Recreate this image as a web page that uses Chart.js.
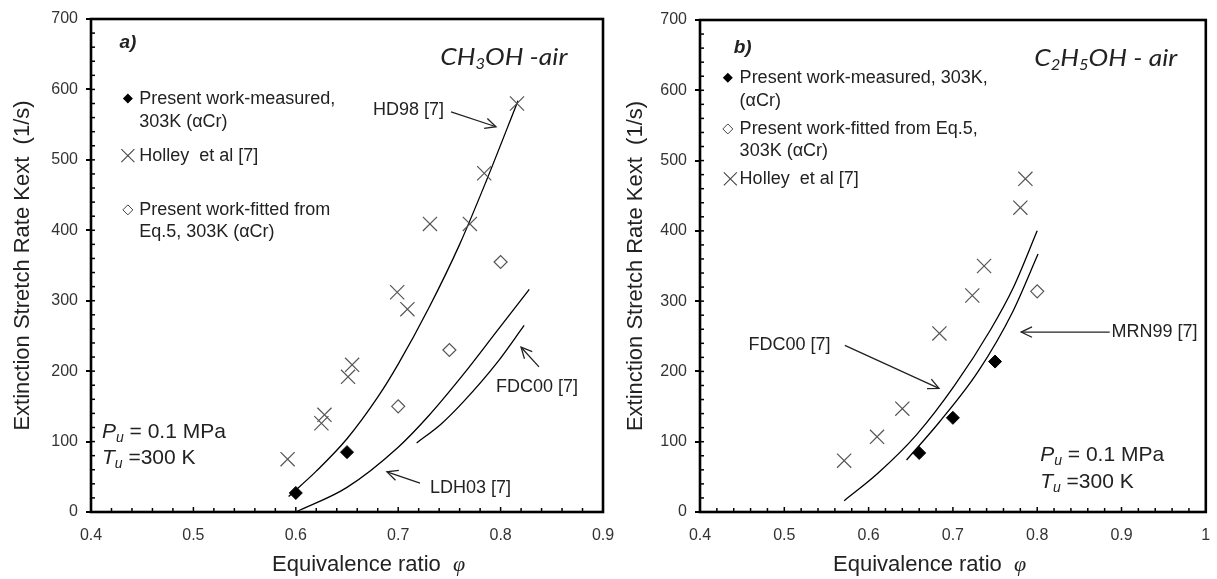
<!DOCTYPE html>
<html><head><meta charset="utf-8">
<script src="https://cdn.jsdelivr.net/npm/chart.js@4.4.1/dist/chart.umd.min.js"></script>
<style>
html,body{margin:0;padding:0;background:#fff;width:1217px;height:579px;overflow:hidden}
canvas{position:absolute;top:0}
#ca{left:0;width:640px;height:579px}
#cb{left:610px;width:607px;height:579px}
</style></head><body>
<canvas id="ca" width="640" height="579"></canvas>
<canvas id="cb" width="607" height="579"></canvas>
<script>
// ---------- Panel a) CH3OH - air ----------
const aMeasuredPhi = [0.60, 0.65];
const aMeasuredK   = [27, 85];
const aFittedPhi   = [0.70, 0.75, 0.80];
const aFittedK     = [150, 230, 355];
const aHolleyPhi   = [0.592, 0.625, 0.628, 0.651, 0.655, 0.699, 0.709, 0.731, 0.770, 0.784, 0.816];
const aHolleyK     = [75, 126, 138, 192, 209, 312, 288, 409, 409, 481, 580];
const aHD98Phi     = [0.593, 0.62, 0.65, 0.68, 0.70, 0.73, 0.76, 0.786, 0.817];
const aHD98K       = [22, 58, 104, 163, 210, 290, 380, 470, 584];
const aLDH03Phi    = [0.600, 0.650, 0.700, 0.730, 0.764, 0.796, 0.828];
const aLDH03K      = [0, 35, 92, 137, 196, 256, 316];
const aFDC00Phi    = [0.718, 0.742, 0.764, 0.796, 0.823];
const aFDC00K      = [98, 125, 157, 211, 265];
const aXTickLabels = ['0.4', '0.5', '0.6', '0.7', '0.8', '0.9'];

// ---------- Panel b) C2H5OH - air ----------
const bMeasuredPhi = [0.66, 0.70, 0.75];
const bMeasuredK   = [84, 134, 214];
const bFittedPhi   = [0.80];
const bFittedK     = [314];
const bHolleyPhi   = [0.571, 0.61, 0.64, 0.684, 0.723, 0.737, 0.78, 0.786];
const bHolleyK     = [73, 107, 147, 254, 308, 350, 433, 474];
const bFDC00Phi    = [0.571, 0.611, 0.657, 0.702, 0.745, 0.772, 0.800];
const bFDC00K      = [16, 55, 110, 180, 260, 320, 400];
const bMRN99Phi    = [0.645, 0.684, 0.730, 0.771, 0.801];
const bMRN99K      = [74, 128, 200, 285, 367];
const bXTickLabels = ['0.4', '0.5', '0.6', '0.7', '0.8', '0.9', '1'];

const yTickLabels  = ['0', '100', '200', '300', '400', '500', '600', '700'];

// ---------- styling ----------
const SANS = '"Liberation Sans", Arial, sans-serif';
const TXT = '#222';
const LEG = '18px ' + SANS;
const IT = 'italic 24px Lato, "Open Sans", sans-serif';
const ITS = 'italic 15px Lato, "Open Sans", sans-serif';
const PF = '21px ' + SANS, PFI = 'italic 21px ' + SANS, PFS = 'italic 14px ' + SANS;

const pts = (xs, ys) => xs.map((x, i) => ({x: x, y: ys[i]}));
function curve(xs, ys) {
  return {type: 'line', data: pts(xs, ys), borderColor: '#000', borderWidth: 1.3, pointRadius: 0,
          fill: false, cubicInterpolationMode: 'monotone', order: 5};
}
function measured(xs, ys) {
  return {data: pts(xs, ys), pointStyle: 'rectRot', pointRadius: 6.5, backgroundColor: '#000', borderColor: '#000', borderWidth: 1};
}
function fitted(xs, ys) {
  return {data: pts(xs, ys), pointStyle: 'rectRot', pointRadius: 6.5, backgroundColor: '#fff', borderColor: '#555', borderWidth: 1.2};
}
function holley(xs, ys) {
  return {data: pts(xs, ys), pointStyle: 'crossRot', pointRadius: 10, backgroundColor: '#555', borderColor: '#555', borderWidth: 1.2};
}

function drawSegs(ctx, x, y, segs, align, sx) {
  sx = sx || 1;
  let total = 0;
  segs.forEach(s => { ctx.font = s.f; s.w = ctx.measureText(s.t).width; total += s.w; });
  ctx.save();
  ctx.translate(x, y); ctx.scale(sx, 1);
  let cx = align === 'center' ? -total / 2 : 0;
  ctx.textBaseline = 'middle'; ctx.textAlign = 'left'; ctx.fillStyle = TXT;
  segs.forEach(s => { ctx.font = s.f; ctx.fillText(s.t, cx, (s.dy || 0)); cx += s.w; });
  ctx.restore();
}
function arrow(ctx, x1, y1, x2, y2) {
  ctx.save(); ctx.strokeStyle = '#222'; ctx.lineWidth = 1.3;
  ctx.beginPath(); ctx.moveTo(x1, y1); ctx.lineTo(x2, y2); ctx.stroke();
  const a = Math.atan2(y2 - y1, x2 - x1), L = 12, s = 0.45;
  ctx.beginPath();
  ctx.moveTo(x2 - L * Math.cos(a - s), y2 - L * Math.sin(a - s));
  ctx.lineTo(x2, y2);
  ctx.lineTo(x2 - L * Math.cos(a + s), y2 - L * Math.sin(a + s));
  ctx.stroke(); ctx.restore();
}
function legMarker(ctx, kind, x, y) {
  ctx.save();
  if (kind === 'filled' || kind === 'open') {
    const r = 5;
    ctx.beginPath(); ctx.moveTo(x - r, y); ctx.lineTo(x, y - r); ctx.lineTo(x + r, y); ctx.lineTo(x, y + r); ctx.closePath();
    if (kind === 'filled') { ctx.fillStyle = '#000'; ctx.fill(); }
    else { ctx.strokeStyle = '#444'; ctx.lineWidth = 1; ctx.stroke(); }
  } else {
    const r = 6.5; ctx.strokeStyle = '#444'; ctx.lineWidth = 1.1;
    ctx.beginPath(); ctx.moveTo(x - r, y - r); ctx.lineTo(x + r, y + r); ctx.moveTo(x + r, y - r); ctx.lineTo(x - r, y + r); ctx.stroke();
  }
  ctx.restore();
}

const decoPlugin = {
  id: 'deco',
  afterDraw(chart) {
    const o = chart.options.plugins.deco, ctx = chart.ctx;
    const xs = chart.scales.x, ys = chart.scales.y, A = chart.chartArea;
    const X = v => xs.getPixelForValue(v), Y = v => ys.getPixelForValue(v);
    ctx.save();
    // inward minor ticks
    ctx.strokeStyle = '#000'; ctx.lineWidth = 1.5;
    for (let i = 1; ; i++) {
      const v = xs.min + i * 0.02; if (v > xs.max - 1e-9) break;
      const p = X(v); const len = (i % 5 === 0) ? 5 : 4;
      ctx.beginPath(); ctx.moveTo(p, A.bottom); ctx.lineTo(p, A.bottom - len); ctx.stroke();
    }
    for (let v = 20; v < 700; v += 20) {
      const p = Y(v);
      ctx.beginPath(); ctx.moveTo(A.left, p); ctx.lineTo(A.left + 4, p); ctx.stroke();
    }
    // frame
    ctx.lineWidth = 2.6; ctx.strokeStyle = '#000';
    ctx.strokeRect(A.left, A.top, A.right - A.left, A.bottom - A.top);
    // texts
    o.texts.forEach(t => drawSegs(ctx, X(t.x), Y(t.y), t.segs, t.align, t.sx));
    o.arrows.forEach(a => arrow(ctx, X(a[0]), Y(a[1]), X(a[2]), Y(a[3])));
    o.markers.forEach(m => legMarker(ctx, m.k, X(m.x), Y(m.y)));
    // x axis title
    drawSegs(ctx, o.xTitle[0], o.xTitle[1], [
      {t: 'Equivalence ratio  ', f: '22px ' + SANS},
      {t: '\u03C6', f: 'italic 22px "Liberation Serif", serif'}], 'left');
    ctx.restore();
  }
};

function makeChart(id, cfg) {
  const labels = cfg.xLabels;
  return new Chart(document.getElementById(id), {
    type: 'scatter',
    data: {datasets: cfg.datasets},
    plugins: [decoPlugin],
    options: {
      responsive: false, animation: false, events: [],
      layout: {padding: {top: cfg.top, right: cfg.right, left: 0, bottom: 0}},
      plugins: {legend: {display: false}, tooltip: {enabled: false}, deco: cfg.deco},
      scales: {
        x: {
          type: 'linear', min: 0.4, max: cfg.xMax,
          grid: {display: false, drawTicks: false},
          border: {display: false},
          ticks: {stepSize: 0.1, padding: 14, color: '#333', font: {size: 16, family: SANS},
                  maxRotation: 0, autoSkip: false,
                  callback: v => labels[Math.round((v - 0.4) / 0.1)]},
          afterFit: s => { s.height = 67; s.paddingLeft = 0; s.paddingRight = 0; }
        },
        y: {
          type: 'linear', min: 0, max: 700,
          grid: {display: true, drawOnChartArea: false, drawTicks: true, tickLength: 5, color: '#000', lineWidth: 2},
          border: {display: false},
          ticks: {stepSize: 100, padding: 8, color: '#333', font: {size: 16, family: SANS},
                  callback: v => yTickLabels[Math.round(v / 100)]},
          title: {display: true, text: 'Extinction Stretch Rate Kext  (1/s)', color: TXT,
                  font: {size: 22, family: SANS}, padding: {top: cfg.yTitlePad, bottom: 0}},
          afterFit: s => { s.width = cfg.yWidth; s.paddingTop = 0; s.paddingBottom = 0; }
        }
      }
    }
  });
}

makeChart('ca', {
  xMax: 0.9, xLabels: aXTickLabels, top: 19, right: 37, yWidth: 91, yTitlePad: 10,
  datasets: [
    curve(aHD98Phi, aHD98K), curve(aLDH03Phi, aLDH03K), curve(aFDC00Phi, aFDC00K),
    holley(aHolleyPhi, aHolleyK), fitted(aFittedPhi, aFittedK), measured(aMeasuredPhi, aMeasuredK)
  ],
  deco: {
    xTitle: [272, 565],
    texts: [
      {x: 0.436, y: 666, align: 'center', segs: [{t: 'a)', f: 'bold italic 19px ' + SANS}]},
      {x: 0.741, y: 645, sx: 1.1, segs: [{t: 'CH', f: IT}, {t: '3', f: ITS, dy: 6}, {t: 'OH -air', f: IT}]},
      {x: 0.447, y: 587, segs: [{t: 'Present work-measured,', f: LEG}]},
      {x: 0.447, y: 554, segs: [{t: '303K (\u03B1Cr)', f: LEG}]},
      {x: 0.447, y: 506, segs: [{t: 'Holley  et al [7]', f: LEG}]},
      {x: 0.447, y: 429, segs: [{t: 'Present work-fitted from', f: LEG}]},
      {x: 0.447, y: 398, segs: [{t: 'Eq.5, 303K (\u03B1Cr)', f: LEG}]},
      {x: 0.6754, y: 571, segs: [{t: 'HD98 [7]', f: LEG}]},
      {x: 0.7955, y: 178, segs: [{t: 'FDC00 [7]', f: LEG}]},
      {x: 0.731, y: 34, segs: [{t: 'LDH03 [7]', f: LEG}]},
      {x: 0.4107, y: 114, segs: [{t: 'P', f: PFI}, {t: 'u', f: PFS, dy: 6}, {t: ' = 0.1 MPa', f: PF}]},
      {x: 0.4107, y: 77, segs: [{t: 'T', f: PFI}, {t: 'u', f: PFS, dy: 6}, {t: ' =300 K', f: PF}]}
    ],
    arrows: [[0.7516, 568, 0.7955, 547], [0.8375, 206, 0.820, 234], [0.7213, 41, 0.689, 57]],
    markers: [{k: 'filled', x: 0.436, y: 587}, {k: 'cross', x: 0.436, y: 506}, {k: 'open', x: 0.436, y: 429}]
  }
});

makeChart('cb', {
  xMax: 1.0, xLabels: bXTickLabels, top: 20, right: 7, yWidth: 90, yTitlePad: 13,
  datasets: [
    curve(bFDC00Phi, bFDC00K), curve(bMRN99Phi, bMRN99K),
    holley(bHolleyPhi, bHolleyK), fitted(bFittedPhi, bFittedK), measured(bMeasuredPhi, bMeasuredK)
  ],
  deco: {
    xTitle: [833 - 610, 565],
    texts: [
      {x: 0.4506, y: 660, align: 'center', segs: [{t: 'b)', f: 'bold italic 19px ' + SANS}]},
      {x: 0.7965, y: 645, sx: 1.1, segs: [{t: 'C', f: IT}, {t: '2', f: ITS, dy: 6}, {t: 'H', f: IT}, {t: '5', f: ITS, dy: 6}, {t: 'OH - air', f: IT}]},
      {x: 0.447, y: 618, segs: [{t: 'Present work-measured, 303K,', f: LEG}]},
      {x: 0.447, y: 585, segs: [{t: '(\u03B1Cr)', f: LEG}]},
      {x: 0.447, y: 545, segs: [{t: 'Present work-fitted from Eq.5,', f: LEG}]},
      {x: 0.447, y: 514, segs: [{t: '303K (\u03B1Cr)', f: LEG}]},
      {x: 0.447, y: 474, segs: [{t: 'Holley  et al [7]', f: LEG}]},
      {x: 0.4576, y: 237, segs: [{t: 'FDC00 [7]', f: LEG}]},
      {x: 0.888, y: 256, segs: [{t: 'MRN99 [7]', f: LEG}]},
      {x: 0.8035, y: 81, segs: [{t: 'P', f: PFI}, {t: 'u', f: PFS, dy: 6}, {t: ' = 0.1 MPa', f: PF}]},
      {x: 0.8035, y: 43, segs: [{t: 'T', f: PFI}, {t: 'u', f: PFS, dy: 6}, {t: ' =300 K', f: PF}]}
    ],
    arrows: [[0.5718, 237, 0.6835, 176], [0.886, 256, 0.781, 256]],
    markers: [{k: 'filled', x: 0.433, y: 618}, {k: 'open', x: 0.433, y: 545}, {k: 'cross', x: 0.436, y: 474}]
  }
});
</script>
</body></html>
